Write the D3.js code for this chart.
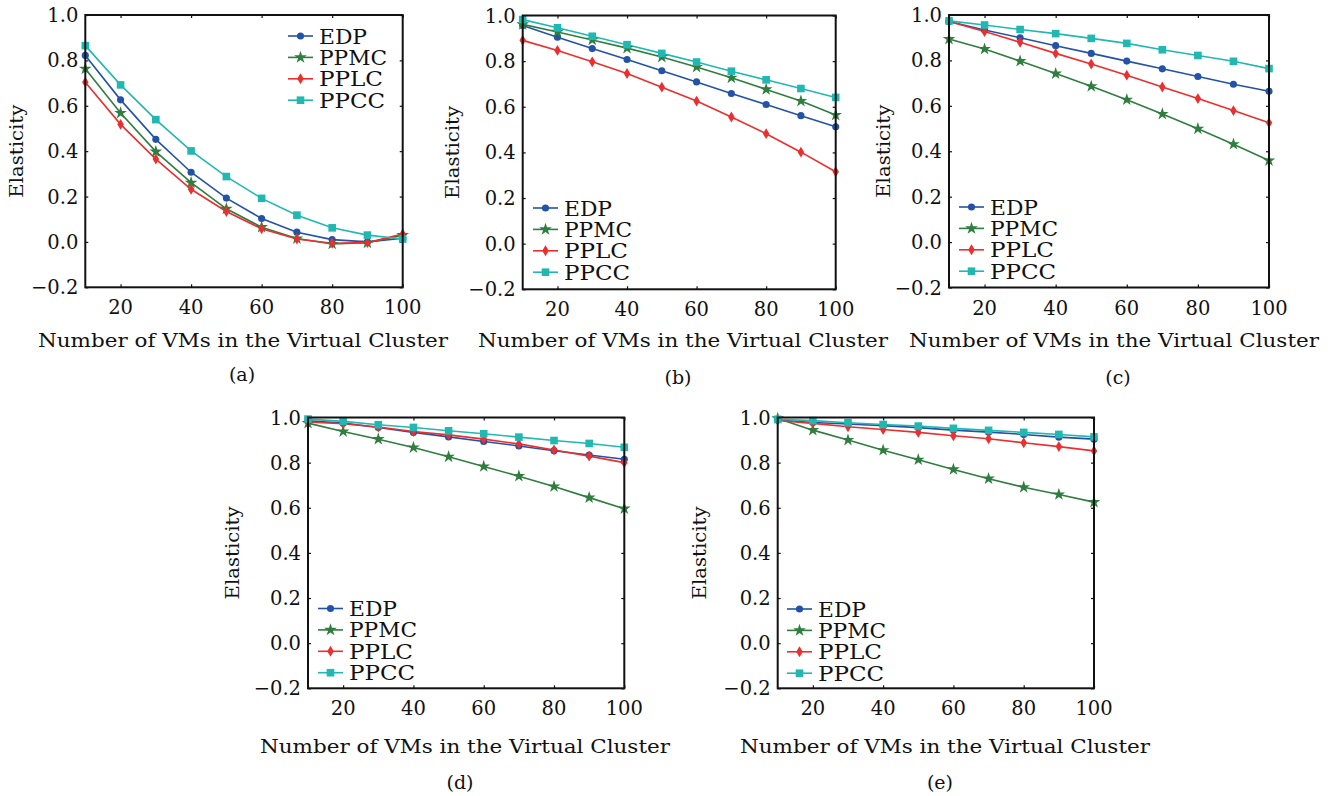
<!DOCTYPE html>
<html>
<head>
<meta charset="utf-8">
<script src="https://cdn.jsdelivr.net/npm/d3@7"></script>
<style>
  html, body { margin: 0; padding: 0; background: #fff; }
  svg { display: block; }
  text { font-family: "DejaVu Serif", "Liberation Serif", serif; fill: #111; }
</style>
</head>
<body>
<svg id="chart" width="1336" height="796"></svg>
<script>
// Number of VMs in the virtual cluster (x values shared by every panel)
const vmCounts = [10, 20, 30, 40, 50, 60, 70, 80, 90, 100];
const seriesNames = ["EDP", "PPMC", "PPLC", "PPCC"];
const xTickValues = [20, 40, 60, 80, 100];
const yTickValues = [-0.2, 0.0, 0.2, 0.4, 0.6, 0.8, 1.0];
const panelLetters = ["(a)", "(b)", "(c)", "(d)", "(e)"];

// Elasticity per scheme, panel (a)
const edpA  = [0.822, 0.626, 0.452, 0.307, 0.193, 0.103, 0.043, 0.010, 0.000, 0.016];
const ppmcA = [0.763, 0.568, 0.398, 0.261, 0.146, 0.065, 0.015, -0.009, -0.004, 0.030];
const pplcA = [0.704, 0.518, 0.365, 0.232, 0.134, 0.058, 0.013, -0.006, -0.003, 0.035];
const ppccA = [0.865, 0.692, 0.539, 0.401, 0.288, 0.192, 0.118, 0.062, 0.030, 0.013];

// panel (b)
const edpB  = [0.956, 0.905, 0.855, 0.807, 0.758, 0.709, 0.658, 0.610, 0.561, 0.512];
const ppmcB = [0.961, 0.928, 0.893, 0.857, 0.818, 0.774, 0.727, 0.676, 0.625, 0.564];
const pplcB = [0.891, 0.847, 0.797, 0.746, 0.686, 0.625, 0.555, 0.482, 0.401, 0.315];
const ppccB = [0.982, 0.946, 0.909, 0.872, 0.834, 0.796, 0.756, 0.718, 0.680, 0.641];

// panel (c)
const edpC  = [0.971, 0.934, 0.900, 0.865, 0.831, 0.797, 0.763, 0.729, 0.695, 0.664];
const ppmcC = [0.894, 0.850, 0.797, 0.742, 0.686, 0.627, 0.564, 0.499, 0.431, 0.359];
const pplcC = [0.971, 0.927, 0.880, 0.831, 0.784, 0.735, 0.683, 0.632, 0.579, 0.525];
const ppccC = [0.974, 0.956, 0.936, 0.918, 0.897, 0.875, 0.847, 0.822, 0.796, 0.764];

// panel (d)
const edpD  = [0.985, 0.975, 0.956, 0.934, 0.914, 0.894, 0.874, 0.853, 0.834, 0.815];
const ppmcD = [0.975, 0.938, 0.904, 0.867, 0.826, 0.783, 0.740, 0.694, 0.645, 0.596];
const pplcD = [0.980, 0.972, 0.958, 0.938, 0.923, 0.904, 0.883, 0.856, 0.829, 0.800];
const ppccD = [0.993, 0.983, 0.968, 0.956, 0.941, 0.928, 0.913, 0.898, 0.885, 0.868];

// panel (e)
const edpE  = [0.989, 0.978, 0.971, 0.964, 0.955, 0.944, 0.935, 0.925, 0.913, 0.904];
const ppmcE = [0.996, 0.944, 0.900, 0.855, 0.813, 0.770, 0.729, 0.691, 0.659, 0.625];
const pplcE = [0.987, 0.974, 0.959, 0.947, 0.934, 0.919, 0.906, 0.888, 0.871, 0.852];
const ppccE = [0.992, 0.986, 0.977, 0.969, 0.962, 0.952, 0.943, 0.934, 0.925, 0.914];

const panelValues = [
  [edpA, ppmcA, pplcA, ppccA],
  [edpB, ppmcB, pplcB, ppccB],
  [edpC, ppmcC, pplcC, ppccC],
  [edpD, ppmcD, pplcD, ppccD],
  [edpE, ppmcE, pplcE, ppccE]
];

// ---- styling & layout ----
const colors = { EDP: "#2352a6", PPMC: "#2f7d3f", PPLC: "#ec2e2e", PPCC: "#21b8b1" };

// Narrow vertical diamond used for PPLC
const thinDiamond = {
  draw(ctx, size) {
    const h = Math.sqrt(size) * 0.8, w = h * 0.6;
    ctx.moveTo(0, -h); ctx.lineTo(w, 0); ctx.lineTo(0, h); ctx.lineTo(-w, 0); ctx.closePath();
  }
};
const shapes = {
  EDP:  d3.symbol(d3.symbolCircle, 40),
  PPMC: d3.symbol(d3.symbolStar, 50),
  PPLC: d3.symbol(thinDiamond, 46),
  PPCC: d3.symbol(d3.symbolSquare, 58)
};

const layouts = [
  { x0: 85.3,  x1: 402.7, y0: 15,    y1: 287.3, lx: 288, ly: 36,    titleX: 243,  titleY: 347, ylabX: 23,  letterX: 242,  letterY: 381 },
  { x0: 522.7, x1: 835.7, y0: 15.5,  y1: 289.3, lx: 533, ly: 208,   titleX: 683,  titleY: 347, ylabX: 459, letterX: 678,  letterY: 384 },
  { x0: 949,   x1: 1269,  y0: 15,    y1: 287.5, lx: 959, ly: 207,   titleX: 1114, titleY: 347, ylabX: 890, letterX: 1118, letterY: 384 },
  { x0: 308,   x1: 624.3, y0: 417.5, y1: 688.3, lx: 318, ly: 608.5, titleX: 465,  titleY: 753, ylabX: 239, letterX: 460,  letterY: 789 },
  { x0: 777.7, x1: 1094,  y0: 417.5, y1: 688.3, lx: 787, ly: 609,   titleX: 945,  titleY: 753, ylabX: 706, letterX: 940,  letterY: 789 }
];

const svg = d3.select("#chart");
const fmt = v => (v < 0 ? "\u2212" : "") + Math.abs(v).toFixed(1);

function fitText(sel, width) {
  sel.attr("textLength", width).attr("lengthAdjust", "spacingAndGlyphs");
}

layouts.forEach((L, pi) => {
  const x = d3.scaleLinear().domain([10, 100]).range([L.x0, L.x1]);
  const y = d3.scaleLinear().domain([-0.2, 1.0]).range([L.y1, L.y0]);
  const g = svg.append("g");

  // inward ticks on all four sides
  const tick = 3;
  const axB = d3.axisBottom(x).tickValues(xTickValues).tickSize(tick).tickFormat("");
  const axT = d3.axisTop(x).tickValues(xTickValues).tickSize(tick).tickFormat("");
  const axL = d3.axisLeft(y).tickValues(yTickValues).tickSize(tick).tickFormat("");
  const axR = d3.axisRight(y).tickValues(yTickValues).tickSize(tick).tickFormat("");
  [[axB, `translate(0,${L.y1}) scale(1,-1)`],
   [axT, `translate(0,${L.y0}) scale(1,-1)`],
   [axL, `translate(${L.x0},0) scale(-1,1)`],
   [axR, `translate(${L.x1},0) scale(-1,1)`]].forEach(([ax, tr]) => {
    const a = g.append("g").attr("transform", tr).call(ax);
    a.select(".domain").remove();
    a.selectAll("line").attr("stroke", "#111").attr("stroke-width", 1.2);
  });

  // tick labels
  g.append("g").selectAll("text").data(xTickValues).join("text")
    .attr("x", d => x(d)).attr("y", L.y1 + 27)
    .attr("text-anchor", "middle").attr("font-size", 19.5).text(d => d);
  g.append("g").selectAll("text").data(yTickValues).join("text")
    .attr("x", L.x0 - 7).attr("y", d => y(d) + 7)
    .attr("text-anchor", "end").attr("font-size", 19.5).text(fmt);

  // series lines and markers
  const line = d3.line().x((d, i) => x(vmCounts[i])).y(d => y(d));
  const vals = panelValues[pi];
  seriesNames.forEach((name, si) => {
    g.append("path").datum(vals[si]).attr("d", line)
      .attr("fill", "none").attr("stroke", colors[name]).attr("stroke-width", 1.6);
  });
  seriesNames.forEach((name, si) => {
    g.append("g").selectAll("path").data(vals[si]).join("path")
      .attr("d", shapes[name])
      .attr("transform", (d, i) => `translate(${x(vmCounts[i])},${y(d)})`)
      .attr("fill", colors[name]);
  });

  // frame
  g.append("rect").attr("x", L.x0).attr("y", L.y0)
    .attr("width", L.x1 - L.x0).attr("height", L.y1 - L.y0)
    .attr("fill", "none").attr("stroke", "#111").attr("stroke-width", 2);

  // legend
  const leg = g.append("g");
  seriesNames.forEach((name, si) => {
    const ry = L.ly + si * 21.4;
    leg.append("line").attr("x1", L.lx).attr("x2", L.lx + 25).attr("y1", ry).attr("y2", ry)
      .attr("stroke", colors[name]).attr("stroke-width", 1.6);
    leg.append("path").attr("d", shapes[name]).attr("fill", colors[name])
      .attr("transform", `translate(${L.lx + 12.5},${ry})`);
    const t = leg.append("text").attr("x", L.lx + 31).attr("y", ry + 7.5)
      .attr("font-size", 20).text(name);
    fitText(t, { EDP: 48, PPMC: 68, PPLC: 64, PPCC: 66 }[name]);
  });

  // axis titles
  const xt = g.append("text").attr("x", L.titleX).attr("y", L.titleY)
    .attr("text-anchor", "middle").attr("font-size", 19)
    .text("Number of VMs in the Virtual Cluster");
  fitText(xt, 410);
  const yt = g.append("text")
    .attr("transform", `translate(${L.ylabX},${(L.y0 + L.y1) / 2}) rotate(-90)`)
    .attr("text-anchor", "middle").attr("font-size", 19).text("Elasticity");
  fitText(yt, 93);

  g.append("text").attr("x", L.letterX).attr("y", L.letterY)
    .attr("text-anchor", "middle").attr("font-size", 19).text(panelLetters[pi]);
});
</script>
</body>
</html>
